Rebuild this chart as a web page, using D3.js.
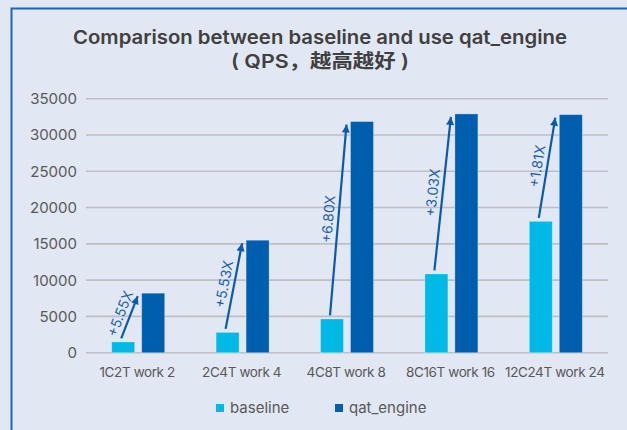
<!DOCTYPE html>
<html><head><meta charset="utf-8">
<script src="https://cdn.jsdelivr.net/npm/d3@7"></script>
<style>
html,body{margin:0;padding:0;background:#e1e7f3;overflow:hidden;}
svg{display:block;font-family:Inter,"Noto Sans","Noto Sans CJK SC",sans-serif;}
</style></head>
<body>
<svg id="c" width="627" height="430"></svg>
<script>
const categories = ["1C2T work 2","2C4T work 4","4C8T work 8","8C16T work 16","12C24T work 24"];
const seriesNames = ["baseline","qat_engine"];
const baseline = [1480, 2800, 4650, 10850, 18100];
const qatEngine = [8200, 15500, 31850, 32900, 32800];
const gainLabels = ["+5.55X","+5.53X","+6.80X","+3.03X","+1.81X"];
const yTicks = [0,5000,10000,15000,20000,25000,30000,35000];
const titleLines = ["Comparison between baseline and use qat_engine","( QPS，越高越好 )"];
const colors = {baseline:"#00b9e6", qat_engine:"#005eae"};

const svg = d3.select("#c");
// frame
svg.append("rect").attr("x",11.5).attr("y",8.5).attr("width",700).attr("height",500)
  .attr("fill","#e1e7f3").attr("stroke","#1d67b8").attr("stroke-width",2);

const x0 = d3.scaleBand().domain(categories).range([86,608]);
const groupW = 53;
const x1 = d3.scaleBand().domain(seriesNames).range([0,groupW]).paddingInner(7/30);
const y = d3.scaleLinear().domain([0,35000]).range([352.7,98.7]);
const gOff = (x0.bandwidth()-groupW)/2;

// grid
svg.append("g").selectAll("line").data(yTicks).join("line")
  .attr("x1",86).attr("x2",608).attr("y1",d=>y(d)).attr("y2",d=>y(d))
  .attr("stroke","#bdbfc4").attr("stroke-width",1.6);

// y labels
svg.append("g").selectAll("text").data(yTicks).join("text")
  .attr("x",77).attr("y",d=>y(d)).attr("dy","0.36em").attr("text-anchor","end")
  .attr("font-size",15).attr("fill","#595959").text(d=>d);

// bars
const data = categories.map((c,i)=>({cat:c, vals:[{s:"baseline",v:baseline[i]},{s:"qat_engine",v:qatEngine[i]}]}));
const gg = svg.append("g").selectAll("g").data(data).join("g")
  .attr("transform",d=>`translate(${x0(d.cat)+gOff},0)`);
gg.selectAll("rect").data(d=>d.vals).join("rect")
  .attr("x",d=>x1(d.s)).attr("width",x1.bandwidth())
  .attr("y",d=>y(d.v)).attr("height",d=>y(0)-y(d.v))
  .attr("fill",d=>colors[d.s]).attr("stroke","rgba(255,255,255,0.35)").attr("stroke-width",0.8);

// x labels
svg.append("g").selectAll("text").data(categories).join("text")
  .attr("x",d=>x0(d)+x0.bandwidth()/2-1).attr("y",377).attr("text-anchor","middle")
  .attr("font-size",13.5).attr("letter-spacing",-0.4).attr("fill","#595959").text(d=>d);

// arrows
svg.append("defs").append("marker").attr("id","ah").attr("viewBox","0 0 10 10")
  .attr("refX",10).attr("refY",5).attr("markerWidth",10).attr("markerHeight",8)
  .attr("markerUnits","userSpaceOnUse").attr("orient","auto")
  .append("path").attr("d","M0,0L10,5L0,10Z").attr("fill","#0d5aa7");

const ann = categories.map((c,i)=>{
  const bx = x0(c)+gOff+x1("baseline")+x1.bandwidth()/2-2;
  const by = y(baseline[i])-3.5;
  const tx = x0(c)+gOff+x1.bandwidth()+ (x1("qat_engine")-x1.bandwidth())/2 - 0.5;
  const ty = y(qatEngine[i])+3;
  return {bx,by,tx,ty,label:gainLabels[i]};
});
svg.append("g").selectAll("line").data(ann).join("line")
  .attr("x1",d=>d.bx).attr("y1",d=>d.by).attr("x2",d=>d.tx).attr("y2",d=>d.ty)
  .attr("stroke","#0d5aa7").attr("stroke-width",2.2).attr("marker-end","url(#ah)");
svg.append("g").selectAll("text").data(ann).join("text")
  .attr("transform",d=>{
    const ang = Math.atan2(d.ty-d.by,d.tx-d.bx);
    const mx=(d.bx+d.tx)/2, my=(d.by+d.ty)/2;
    const nx = Math.sin(ang)*10, ny = -Math.cos(ang)*10; // left-perpendicular
    return `translate(${mx+nx},${my+ny}) rotate(${ang*180/Math.PI})`;
  })
  .attr("text-anchor","middle").attr("dy","0.35em").attr("font-size",14)
  .attr("fill","#1a5fa8").text(d=>d.label);

// title
svg.append("text").attr("x",320).attr("y",43.5).attr("text-anchor","middle")
  .attr("font-size",19).attr("font-weight",600).attr("fill","#404040")
  .attr("textLength",494).attr("lengthAdjust","spacingAndGlyphs").text(titleLines[0]);
svg.append("text").attr("x",320).attr("y",67.5).attr("text-anchor","middle")
  .attr("font-size",19).attr("font-weight",600).attr("fill","#404040")
  .attr("textLength",178).attr("lengthAdjust","spacingAndGlyphs").text(titleLines[1]);

// legend
const leg = [{s:"baseline",x:216},{s:"qat_engine",x:335}];
svg.append("g").selectAll("rect").data(leg).join("rect")
  .attr("x",d=>d.x).attr("y",404).attr("width",8).attr("height",8).attr("fill",d=>colors[d.s]);
svg.append("g").selectAll("text").data(leg).join("text")
  .attr("x",d=>d.x+14).attr("y",412.5).attr("font-size",15).attr("fill","#595959").text(d=>d.s);
</script>
</body></html>
